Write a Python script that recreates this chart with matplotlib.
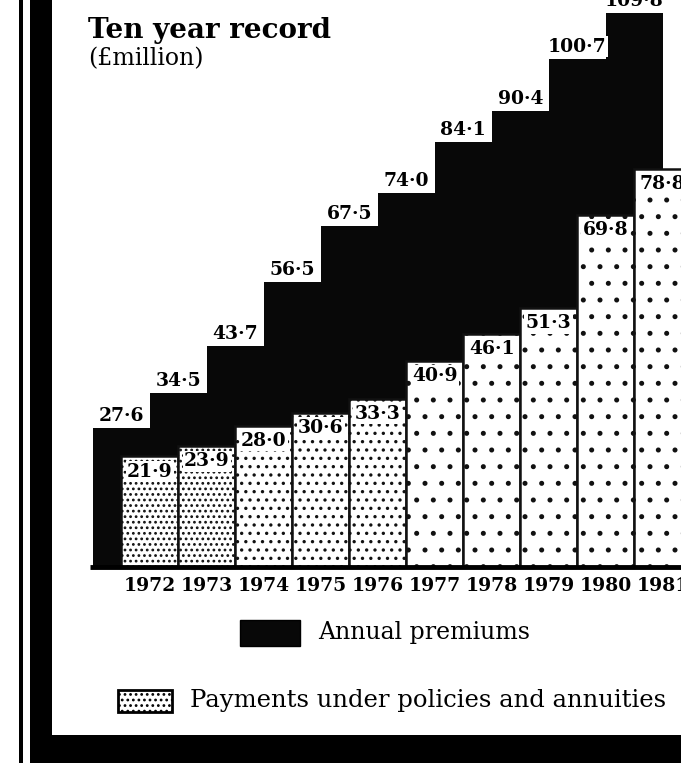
import matplotlib
matplotlib.use("Agg")
import matplotlib.pyplot as plt
from matplotlib.patches import Rectangle
import numpy as np

years = ["1972", "1973", "1974", "1975", "1976", "1977", "1978", "1979", "1980", "1981"]
premiums = [27.6, 34.5, 43.7, 56.5, 67.5, 74.0, 84.1, 90.4, 100.7, 109.8]
payments = [21.9, 23.9, 28.0, 30.6, 33.3, 40.9, 46.1, 51.3, 69.8, 78.8]
title = "Ten year record"
subtitle = "(£million)"
legend_labels = ["Annual premiums", "Payments under policies and annuities"]

W, H = 681, 763
FAM = ["DejaVu Serif"]
plt.rcParams["hatch.linewidth"] = 1.2

fig = plt.figure(figsize=(W / 100, H / 100), dpi=100)
fig.patch.set_facecolor("white")
ax = fig.add_axes([0, 0, 1, 1])
ax.set_xlim(-2.63, 9.32)
ax.set_ylim(-38.8, 112.3)
ax.axis("off")

x = np.arange(len(years))

def fmt(v):
    return f"{v:.1f}".replace(".", "·")

# stepped premiums area (behind)
ax.bar(x - 1, premiums, width=1.0, align="edge", color="#080808", edgecolor="none", zorder=1)

# payment bars
hatches = ["...", "...", "..", "..", "..", ".", ".", ".", ".", "."]
for xi, v, h in zip(x, payments, hatches):
    ax.bar(xi, v, width=1.0, facecolor="white", edgecolor="#111111", hatch=h,
           linewidth=1.8, zorder=2)

# baseline
ax.hlines(0, x[0] - 1.05, ax.get_xlim()[1], color="black", linewidth=3.5, zorder=3)

# premium labels
for xi, v in zip(x, premiums):
    ax.text(xi - 0.5, v + 0.6, fmt(v), ha="center", va="bottom", fontsize=13.5,
            fontweight="bold", family=FAM, color="black", zorder=4,
            bbox=dict(boxstyle="square,pad=0.08", facecolor="white", edgecolor="none"))

# payment labels
for xi, v in zip(x, payments):
    ax.text(xi, v - 1.2, fmt(v), ha="center", va="top", fontsize=13.5,
            fontweight="bold", family=FAM, color="black", zorder=4,
            bbox=dict(boxstyle="square,pad=0.08", facecolor="white", edgecolor="none"))

# year labels
for xi, yr in zip(x, years):
    ax.text(xi, -2.0, yr, ha="center", va="top", fontsize=13.5, fontweight="bold",
            family=FAM, color="black", zorder=4)

# title
fig.text(88 / W, 1 - 17 / H, title, ha="left", va="top", fontsize=20,
         fontweight="bold", family=FAM)
fig.text(88 / W, 1 - 47 / H, subtitle, ha="left", va="top", fontsize=17,
         family=FAM)

# legend
fig.add_artist(Rectangle((240 / W, 1 - 646 / H), 60 / W, 26 / H, transform=fig.transFigure,
                         facecolor="#080808", edgecolor="black"))
fig.text(318 / W, 1 - 633 / H, legend_labels[0], ha="left", va="center", fontsize=17,
         family=FAM)
fig.add_artist(Rectangle((118 / W, 1 - 712 / H), 54 / W, 22 / H, transform=fig.transFigure,
                         facecolor="white", edgecolor="black", hatch="...", linewidth=2))
fig.text(190 / W, 1 - 701 / H, legend_labels[1], ha="left", va="center", fontsize=17.5,
         family=FAM)

# decorative frame
fig.add_artist(Rectangle((19 / W, 0), 4 / W, 1, transform=fig.transFigure,
                         facecolor="black", edgecolor="none"))
fig.add_artist(Rectangle((30 / W, 0), 22 / W, 1, transform=fig.transFigure,
                         facecolor="black", edgecolor="none"))
fig.add_artist(Rectangle((30 / W, 0), 1 - 30 / W, 28 / H, transform=fig.transFigure,
                         facecolor="black", edgecolor="none"))

fig.savefig("out.png", dpi=100, facecolor="white")
